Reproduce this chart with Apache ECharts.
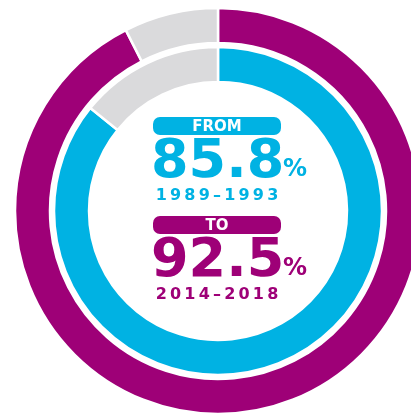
<!DOCTYPE html>
<html>
<head>
<meta charset="utf-8">
<script src="https://cdn.jsdelivr.net/npm/echarts@6/dist/echarts.min.js"></script>
<style>
  html, body { margin: 0; padding: 0; background: #fff; }
  #chart { width: 411px; height: 415px; }
</style>
</head>
<body>
<div id="chart"></div>
<script>
// share of total, outer ring = recent period, inner ring = earlier period
const sliceNames = ['covered', 'rest']
const outerValues = [92.5, 7.5]
const innerValues = [85.8, 14.2]
const periods = ['1989–1993', '2014–2018']
const tags = ['FROM', 'TO']

const purple = '#9E0077'
const cyan = '#00B2E3'
const grey = '#DADADC'
const font = '"DejaVu Sans", sans-serif'

const spaced = s => s.split('').join('\u2009')

const chart = echarts.init(document.getElementById('chart'), null, { renderer: 'canvas' })

const ring = (values, radius, color) => ({
  type: 'pie',
  center: [218, 211],
  radius: radius,
  startAngle: 90,
  clockwise: true,
  silent: true,
  label: { show: false },
  labelLine: { show: false },
  itemStyle: { borderColor: '#fff', borderWidth: 2.5 },
  data: values.map((v, i) => ({
    name: sliceNames[i],
    value: v,
    itemStyle: { color: i === 0 ? color : grey }
  }))
})

const block = (tag, value, period, color, top) => [
  {
    type: 'rect',
    shape: { x: 153, y: top, width: 128, height: 18, r: 7 },
    style: { fill: color }
  },
  {
    type: 'text',
    style: {
      x: 217, y: top + 10, text: tag, fill: '#fff',
      font: 'bold 15px ' + font, align: 'center', verticalAlign: 'middle'
    }
  },
  {
    type: 'text',
    style: {
      x: 151, y: top + 46, text: String(value), fill: color,
      font: 'bold 54px ' + font, align: 'left', verticalAlign: 'middle'
    }
  },
  {
    type: 'text',
    style: {
      x: 283, y: top + 53, text: '%', fill: color,
      font: '600 24px ' + font, align: 'left', verticalAlign: 'middle'
    }
  },
  {
    type: 'text',
    style: {
      x: 217, y: top + 79, text: spaced(period), fill: color,
      font: 'bold 16px ' + font, align: 'center', verticalAlign: 'middle'
    }
  }
]

chart.setOption({
  animation: false,
  series: [
    ring(outerValues, [168, 203], purple),
    ring(innerValues, [129, 164], cyan)
  ],
  graphic: [
    ...block(tags[0], innerValues[0], periods[0], cyan, 117),
    ...block(tags[1], outerValues[0], periods[1], purple, 216)
  ]
})
</script>
</body>
</html>
